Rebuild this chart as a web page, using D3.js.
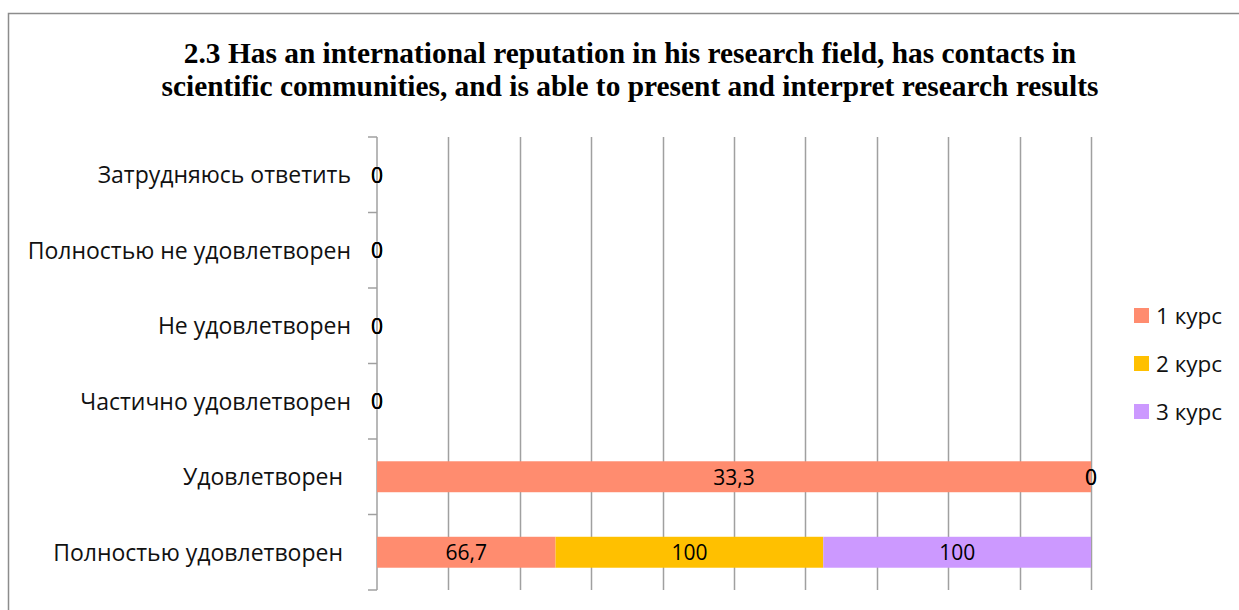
<!DOCTYPE html>
<html>
<head>
<meta charset="utf-8">
<script src="https://cdn.jsdelivr.net/npm/d3@7"></script>
<style>
  body { margin: 0; background: #fff; }
  svg { display: block; }
</style>
</head>
<body>
<svg id="chart" width="1239" height="610"></svg>
<script>
// ----- data -----
var categories = ["Затрудняюсь ответить", "Полностью не удовлетворен", "Не удовлетворен",
                  "Частично удовлетворен", "Удовлетворен", "Полностью удовлетворен"];
var seriesNames = ["1 курс", "2 курс", "3 курс"];
var kurs1 = [0, 0, 0, 0, 33.3, 66.7];
var kurs2 = [0, 0, 0, 0, 0, 100];
var kurs3 = [0, 0, 0, 0, 0, 100];
var seriesColors = ["#FF8C6F", "#FFC000", "#CC99FF"];
var titleLines = ["2.3 Has an international reputation in his research field, has contacts in",
                  "scientific communities, and is able to present and interpret research results"];

var svg = d3.select("#chart");
var labelFont = "Open Sans";
var titleFont = "Liberation Serif";

// frame
svg.append("rect")
  .attr("x", 8.5).attr("y", 13.5)
  .attr("width", 1300).attr("height", 700)
  .attr("fill", "none").attr("stroke", "#8c8c8c").attr("stroke-width", 1.5);

// title
svg.append("g").selectAll("text")
  .data(titleLines)
  .join("text")
  .attr("x", 630)
  .attr("y", function(d, i){ return 63 + i * 33; })
  .attr("text-anchor", "middle")
  .attr("font-family", titleFont)
  .attr("font-weight", "bold")
  .attr("font-size", 29.4)
  .text(function(d){ return d; });

// build rows (100% stacked)
var allSeries = [kurs1, kurs2, kurs3];
var rows = categories.map(function(c, i){
  var row = {cat: c};
  seriesNames.forEach(function(s, j){ row[s] = allSeries[j][i]; });
  return row;
});

var x = d3.scaleLinear().domain([0, 1]).range([377, 1091]);
var y = d3.scaleBand().domain(categories).range([137, 590])
  .paddingInner(0.59).paddingOuter(0.295);

// gridlines
svg.append("g").selectAll("line")
  .data(x.ticks(10).filter(function(t){ return t > 0; }))
  .join("line")
  .attr("x1", function(d){ return Math.round(x(d)) + 0.5; })
  .attr("x2", function(d){ return Math.round(x(d)) + 0.5; })
  .attr("y1", 137).attr("y2", 590)
  .attr("stroke", "#a0a0a0").attr("stroke-width", 1.5);

// y axis line + ticks at band boundaries
var yAxis = svg.append("g");
yAxis.append("line")
  .attr("x1", x(0)).attr("x2", x(0))
  .attr("y1", 137).attr("y2", 590)
  .attr("stroke", "#a0a0a0").attr("stroke-width", 1.5);
yAxis.selectAll("line.tick")
  .data(d3.range(categories.length + 1))
  .join("line")
  .attr("class", "tick")
  .attr("x1", x(0) - 9).attr("x2", x(0))
  .attr("y1", function(i){ return 137 + i * y.step(); })
  .attr("y2", function(i){ return 137 + i * y.step(); })
  .attr("stroke", "#a0a0a0").attr("stroke-width", 1.5);

// category labels
svg.append("g").selectAll("text")
  .data(categories)
  .join("text")
  .attr("x", function(d){ return (d === "Удовлетворен" || d === "Полностью удовлетворен") ? 343 : 351; })
  .attr("y", function(d){ return y(d) + y.bandwidth() / 2; })
  .attr("dy", "0.38em")
  .attr("text-anchor", "end")
  .attr("font-family", labelFont)
  .attr("font-size", 23)
  .attr("fill", "#111")
  .text(function(d){ return d; });

// stacking in percent
var stack = d3.stack().keys(seriesNames)
  .offset(d3.stackOffsetExpand);
var stacked = stack(rows);

var layers = svg.append("g").selectAll("g")
  .data(stacked)
  .join("g")
  .attr("fill", function(d, i){ return seriesColors[i]; });

layers.selectAll("rect")
  .data(function(d){ return d.map(function(p){ return {p: p, key: d.key}; }); })
  .join("rect")
  .attr("x", function(d){ return x(isNaN(d.p[0]) ? 0 : d.p[0]); })
  .attr("y", function(d){ return y(d.p.data.cat); })
  .attr("height", y.bandwidth())
  .attr("width", function(d){
    var a = isNaN(d.p[0]) ? 0 : d.p[0], b = isNaN(d.p[1]) ? 0 : d.p[1];
    return x(b) - x(a);
  });

// value labels
var fmt = function(v){ return String(v).replace(".", ","); };
var labels = svg.append("g");
stacked.forEach(function(layer){
  labels.selectAll(null)
    .data(layer)
    .join("text")
    .attr("x", function(p){
      var a = isNaN(p[0]) ? 0 : p[0], b = isNaN(p[1]) ? 0 : p[1];
      return x((a + b) / 2);
    })
    .attr("y", function(p){ return y(p.data.cat) + y.bandwidth() / 2; })
    .attr("dy", "0.38em")
    .attr("text-anchor", "middle")
    .attr("font-family", labelFont)
    .attr("font-size", 21)
    .attr("fill", "#000")
    .text(function(p){ return fmt(p.data[layer.key]); });
});

// legend
var legend = svg.append("g").selectAll("g")
  .data(seriesNames)
  .join("g")
  .attr("transform", function(d, i){ return "translate(1134," + (308 + i * 48) + ")"; });
legend.append("rect")
  .attr("width", 15).attr("height", 15)
  .attr("fill", function(d, i){ return seriesColors[i]; });
legend.append("text")
  .attr("x", 22).attr("y", 7.5).attr("dy", "0.38em")
  .attr("font-family", labelFont)
  .attr("font-size", 22.5)
  .attr("fill", "#111")
  .text(function(d){ return d; });
</script>
</body>
</html>
